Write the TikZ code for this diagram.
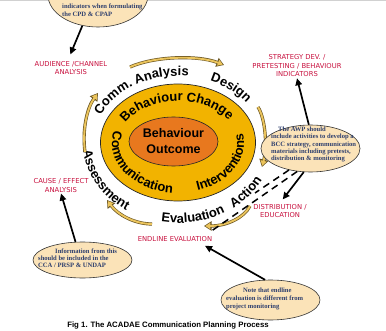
\documentclass[tikz,border=0pt]{standalone}
\usepackage{fontspec}
\setmainfont{Liberation Serif}
\newfontfamily\sansfam{Liberation Sans}
\newfontfamily\labfam{DejaVu Sans}
\usetikzlibrary{shapes.geometric,arrows.meta,decorations.text}
\definecolor{ringyellow}{HTML}{F2B300}
\definecolor{coreorange}{HTML}{E8781E}
\definecolor{calloutfill}{HTML}{FBE3B8}
\definecolor{callouttext}{HTML}{2E3F6E}
\definecolor{labred}{HTML}{C8103E}
\definecolor{swgold}{HTML}{EBC45C}
\definecolor{swdark}{HTML}{6A5522}
\newcommand\ringfnt{\sansfam\bfseries\fontsize{13}{13}\selectfont}
\newcommand\swoosh[1]{\draw[swout] #1; \draw[swin] #1;}
\begin{document}
\begin{tikzpicture}[x=1pt,y=1pt,
  ringtxt/.style={decorate, decoration={text along path, text align=center, text={|\ringfnt|#1}}},
  callout/.style={ellipse, draw=black!80, line width=0.6pt, fill=calloutfill, inner sep=0pt},
  callouttxt/.style={font=\bfseries\fontsize{6.6}{7.4}\selectfont, text=callouttext, align=left, inner sep=0pt},
  redlab/.style={font=\labfam\fontsize{6.8}{8.5}\selectfont, text=labred, align=center, inner sep=1pt},
  blackarrow/.style={line width=1.7pt, -{Triangle[length=7pt,width=6.5pt]}},
  dashline/.style={line width=1.5pt, dash pattern=on 7pt off 5pt},
  swout/.style={line width=3.2pt, draw=swdark, -{Triangle[length=7.5pt,width=9pt]}},
  swin/.style={line width=1.9pt, draw=swgold, shorten >=1.3pt, -{Triangle[length=5pt,width=6pt]}}
]
\useasboundingbox (0,0) rectangle (386,330);
\clip (0,0) rectangle (386,330);
\fill[white] (0,0) rectangle (386,330);
\fill[black!18] (0,328.5) rectangle (386,330);

% central ellipses
\coordinate (C) at (178,187);
\node[ellipse, draw=black!85, line width=0.7pt, fill=ringyellow, minimum width=155pt, minimum height=117pt, inner sep=0pt] (ring) at (178,187.5) {};
\node[ellipse, draw=black!85, line width=0.6pt, fill=coreorange, minimum width=89pt, minimum height=49pt, inner sep=0pt, align=center, font=\sansfam\bfseries\fontsize{12.5}{16}\selectfont] (core) at (173.5,188.5) {Behaviour\\Outcome};

% inner ring texts
\path[ringtxt={Behaviour Change}] ([shift={(168:60 and 42)}]C) arc[start angle=168, end angle=16, x radius=60, y radius=42];
\path[ringtxt={Communication}] ([shift={(150:66 and 50)}]C) arc[start angle=150, end angle=278, x radius=66, y radius=50];
\path[ringtxt={Interventions}] ([shift={(282:66 and 50)}]C) arc[start angle=282, end angle=378, x radius=66, y radius=50];

% outer ring texts
\path[ringtxt={Comm. Analysis}] ([shift={(165:85 and 67)}]C) arc[start angle=165, end angle=75, x radius=85, y radius=67];
\path[ringtxt={Design}] ([shift={(80:85 and 67)}]C) arc[start angle=80, end angle=22, x radius=85, y radius=67];
\path[ringtxt={Assessment}] ([shift={(168:95 and 80)}]C) arc[start angle=168, end angle=252, x radius=95, y radius=80];
\path[ringtxt={Evaluation}] ([shift={(250:95 and 80)}]C) arc[start angle=250, end angle=310, x radius=95, y radius=80];
\path[ringtxt={Action}] ([shift={(303:95 and 80)}]C) arc[start angle=303, end angle=335, x radius=95, y radius=80];

% cycle swooshes
\swoosh{(130,263) .. controls (155,274) and (198,275) .. (224,265)}
\swoosh{(258,223) .. controls (266,210) and (267,182) .. (262,163)}
\swoosh{(250,124) .. controls (244,112) and (226,104) .. (204,104)}
\swoosh{(152,106) .. controls (135,106) and (118,115) .. (107,130)}
\swoosh{(85,178) .. controls (82,200) and (87,222) .. (98,237)}

% red labels
\node[redlab] (aud) at (71,262) {AUDIENCE /CHANNEL\\ANALYSIS};
\node[redlab] (strat) at (297,264) {STRATEGY DEV. /\\PRETESTING / BEHAVIOUR\\INDICATORS};
\node[redlab] (dist) at (280,119) {DISTRIBUTION /\\EDUCATION};
\node[redlab] (cause) at (61,144.5) {CAUSE / EFFECT\\ANALYSIS};
\node[redlab] (endl) at (175,91) {ENDLINE EVALUATION};

% callouts
\node[callout, minimum width=100pt, minimum height=64pt] (tl) at (98,335) {};
\node[callouttxt, font=\bfseries\fontsize{6.6}{8}\selectfont, anchor=west] (tltxt) at (62,320) {indicators when formulating\\the CPD \& CPAP};

\node[callout, minimum width=99pt, minimum height=47pt] (awp) at (310.5,181.5) {};
\node[callouttxt, anchor=west] (awptxt) at (271,185.5) {\hspace*{7pt}The AWP should\\include activities to develop a\\BCC strategy, communication\\materials including pretests,\\distribution \& monitoring};

\node[callout, minimum width=99pt, minimum height=36pt] (bl) at (82.5,70) {};
\node[callouttxt, font=\bfseries\fontsize{6.6}{7.2}\selectfont, anchor=west] (bltxt) at (38,72) {\hspace*{17pt}Information from this\\should be included in the\\CCA / PRSP \& UNDAP};

\node[callout, minimum width=99pt, minimum height=40pt] (br) at (270.5,30) {};
\node[callouttxt, font=\bfseries\fontsize{6.6}{8}\selectfont, anchor=west] (brtxt) at (226,31) {\hspace*{17pt}Note that endline\\evaluation is different from\\project monitoring};

% black arrows
\draw[blackarrow, shorten >=6pt] (tl.243) -- ([xshift=-3pt]aud.north);
\draw[blackarrow] (awp.94) -- (strat.south);
\draw[blackarrow, shorten >=4.5pt] (awp.254) -- (dist.north);
\draw[blackarrow] (bl.111) -- (cause.south);
\draw[blackarrow] (br.105) -- ([shift={(30,-3)}]endl.south);

% dashed lines
\coordinate (d1) at (255,137);
\coordinate (d2) at (210,98);
\draw[dashline] (awp.225) -- (d1);
\draw[dashline] (awp.240) -- (d2);

% caption
\node[font=\sansfam\bfseries\fontsize{7.8}{9}\selectfont, inner sep=0pt] (cap) at (168,5) {Fig 1. The ACADAE Communication Planning Process};
\end{tikzpicture}
\end{document}
